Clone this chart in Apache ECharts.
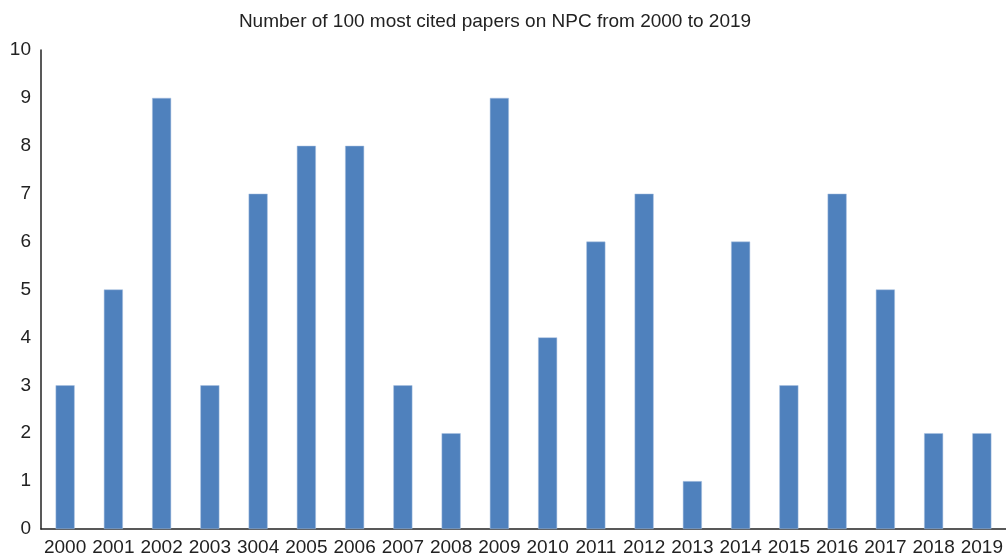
<!DOCTYPE html>
<html>
<head>
<meta charset="utf-8">
<script src="https://cdn.jsdelivr.net/npm/echarts@6/dist/echarts.min.js"></script>
<style>
  html, body { margin: 0; padding: 0; background: #fff; }
  #chart { width: 1006px; height: 559px; }
</style>
</head>
<body>
<div id="chart"></div>
<script>
// 年份标签（原图中 2004 写作 3004，照抄）
const years = ["2000", "2001", "2002", "2003", "3004", "2005", "2006", "2007", "2008", "2009",
  "2010", "2011", "2012", "2013", "2014", "2015", "2016", "2017", "2018", "2019"];
const papers = [3, 5, 9, 3, 7, 8, 8, 3, 2, 9, 4, 6, 7, 1, 6, 3, 7, 5, 2, 2];
const yTicks = [0, 1, 2, 3, 4, 5, 6, 7, 8, 9, 10];

const chart = echarts.init(document.getElementById("chart"));
chart.setOption({
  animation: false,
  title: {
    text: "Number of 100 most cited papers on NPC from 2000 to 2019",
    left: 490,
    textAlign: "center",
    top: 7,
    textStyle: { fontFamily: "Liberation Sans, Arial", fontWeight: "normal", fontSize: 19, color: "#222" }
  },
  grid: { left: 41, right: 0, top: 50, bottom: 30, containLabel: false },
  xAxis: {
    type: "category",
    data: years,
    axisLine: { lineStyle: { color: "#222", width: 1.5 } },
    axisTick: { show: false },
    axisLabel: { fontFamily: "Liberation Sans, Arial", fontSize: 19, color: "#222", margin: 9, interval: 0 }
  },
  yAxis: {
    type: "value",
    min: yTicks[0],
    max: yTicks[yTicks.length - 1],
    interval: 1,
    splitLine: { show: false },
    axisLine: { show: true, lineStyle: { color: "#222", width: 1.5 } },
    axisTick: { show: false },
    axisLabel: { fontFamily: "Liberation Sans, Arial", fontSize: 19, color: "#222", margin: 10 }
  },
  series: [{
    type: "bar",
    data: papers,
    barWidth: 19,
    itemStyle: { color: "#4f81bd", borderColor: "#a9c1e0", borderWidth: 0.5 }
  }]
});
</script>
</body>
</html>
